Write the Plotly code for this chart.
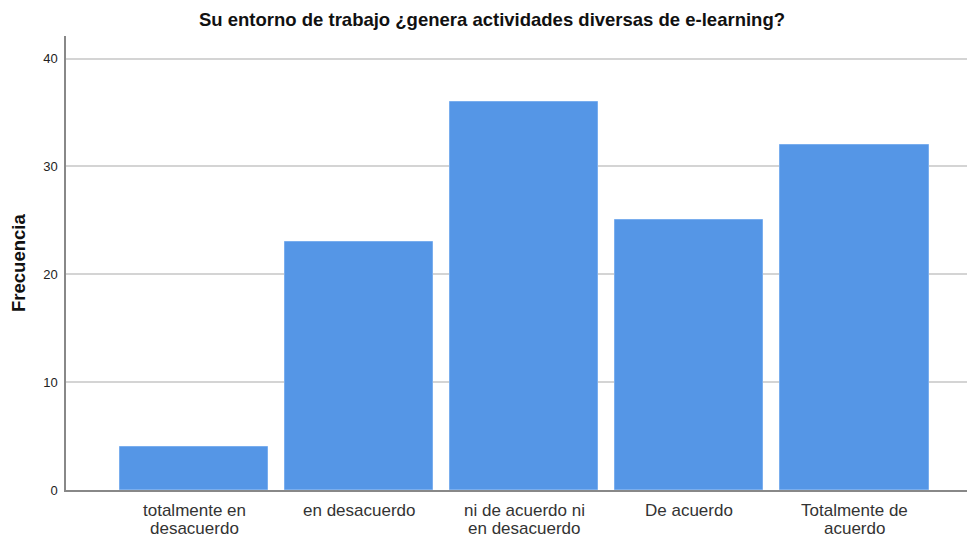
import plotly.graph_objects as go

categories = ["totalmente en<br>desacuerdo", "en desacuerdo", "ni de acuerdo ni<br>en desacuerdo", "De acuerdo", "Totalmente de<br>acuerdo"]
values = [4, 23, 36, 25, 32]
y_ticks = [0, 10, 20, 30, 40]

font = "Arial, Liberation Sans, sans-serif"
# page body has an 8px default margin, so the figure is sized/offset to compensate
W, H = 967, 529

fig = go.Figure()
fig.add_trace(go.Bar(
    x=list(range(len(categories))), y=values, width=0.897,
    marker=dict(color="#5596E6", line=dict(color="#7aaeee", width=1)),
    hoverinfo="y",
))

annotations = []
for i, label in enumerate(categories):
    for j, line in enumerate(label.split("<br>")):
        annotations.append(dict(
            x=i, xref="x", y=0, yref="paper", yanchor="middle", xanchor="center",
            yshift=-20 - 18 * j, text=line, showarrow=False,
            font=dict(size=17, color="#333", family=font)))
annotations.append(dict(
    x=0, xref="paper", y=0.5, yref="paper", xshift=-48, textangle=-90,
    text="<b>Frecuencia</b>", showarrow=False, xanchor="center", yanchor="middle",
    font=dict(size=18.5, color="#111", family=font)))

fig.update_layout(
    width=W, height=H,
    margin=dict(l=58, r=0, t=28, b=47, pad=0),
    paper_bgcolor="white", plot_bgcolor="white",
    showlegend=False,
    font=dict(family=font, color="#222"),
    title=dict(text="<b>Su entorno de trabajo ¿genera actividades diversas de e-learning?</b>",
               x=484 / W, xanchor="center", y=1 - 12 / H, yanchor="middle",
               font=dict(size=18.5, color="#111", family=font)),
    xaxis=dict(range=[-0.776, 4.73], tickmode="array", tickvals=list(range(len(categories))),
               showticklabels=False, showgrid=False, zeroline=False, automargin=False,
               showline=True, linecolor="#888", linewidth=1.5, ticks=""),
    yaxis=dict(range=[0, 42.1], tickmode="array", tickvals=y_ticks, automargin=False,
               showgrid=True, gridcolor="#d4d4d4", gridwidth=1.5, zeroline=False,
               showline=True, linecolor="#888", linewidth=1.5, ticks="",
               ticklabelstandoff=4,
               tickfont=dict(size=13, color="#222")),
    annotations=annotations,
    bargap=0,
)
fig.write_html("out.html")
